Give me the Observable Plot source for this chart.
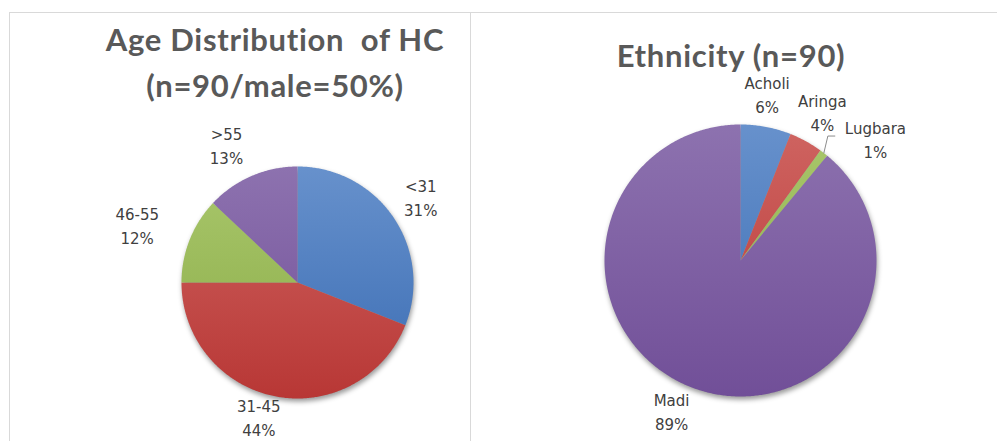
<!DOCTYPE html>
<html><head><meta charset="utf-8">
<script src="https://cdn.jsdelivr.net/npm/d3@7"></script>
<script src="https://cdn.jsdelivr.net/npm/@observablehq/plot@0.6"></script>
<style>
html,body{margin:0;padding:0;background:#fff;}
#wrap{position:relative;width:997px;height:441px;overflow:hidden;font-family:Lato,"Liberation Sans",sans-serif;background:#fff;}
.panel{position:absolute;box-sizing:border-box;}
.title{position:absolute;color:#595959;font-size:31px;font-weight:bold;letter-spacing:0.7px;text-align:center;white-space:pre;line-height:46px;font-family:Lato,sans-serif;}
.chart{position:absolute;left:0;top:0;}
.chart svg{overflow:visible;}
</style></head><body>
<div id="wrap">
  <div class="panel" style="left:9px;top:12px;width:462px;height:460px;border:1px solid #d9d9d9;"></div>
  <div class="panel" style="left:470px;top:12px;width:560px;height:460px;border-top:1px solid #d9d9d9;"></div>
  <div class="title" id="t1" style="left:75px;top:16px;width:400px;"></div>
  <div class="title" id="t2" style="left:531px;top:32px;width:400px;"></div>
  <div class="chart" id="c1"></div>
  <div class="chart" id="c2"></div>
</div>
<script>
// ---- data ----
const ageTitle = ["Age Distribution  of HC", "(n=90/male=50%)"];
const ageCategories = ["<31", "31-45", "46-55", ">55"];
const ageValues = [31, 44, 12, 13];
const ethTitle = ["Ethnicity (n=90)"];
const ethCategories = ["Acholi", "Aringa", "Lugbara", "Madi"];
const ethValues = [6, 4, 1, 89];
const sliceColors = ["#4f81bd", "#c0504d", "#9bbb59", "#8064a2"];
const gradTop = ["#6791cc", "#cf6461", "#a9c76c", "#8d72af"];
const gradBottom = ["#3a6cb3", "#b83735", "#8aab46", "#714f98"];

document.getElementById("t1").textContent = ageTitle.join("\n");
document.getElementById("t2").textContent = ethTitle.join("\n");

const labelFont = "15px 'DejaVu Sans'";
const ctx = document.createElement("canvas").getContext("2d");
ctx.font = labelFont;
const textW = t => ctx.measureText(t).width;

function pieChart({cats, vals, prefix, cx, cy, r, small, maxLabelY}) {
  const W = 997, H = 441;
  const arcs = d3.pie().sort(null).value(d => d)(vals);
  const pts = [];
  arcs.forEach((a, i) => {
    const fill = `url(#${prefix}${i})`;
    pts.push({cat: cats[i], x: 0, y: 0, fill});
    const n = Math.max(4, Math.ceil((a.endAngle - a.startAngle) / 0.01));
    for (let k = 0; k <= n; k++) {
      const t = a.startAngle + (a.endAngle - a.startAngle) * k / n;
      pts.push({cat: cats[i], x: Math.sin(t), y: Math.cos(t), fill});
    }
  });
  const labels = [];
  const leaders = [];
  const px = v => v / r; // pixel offset -> unit offset
  arcs.forEach((a, i) => {
    const m = (a.startAngle + a.endAngle) / 2;
    const s = Math.sin(m), c = Math.cos(m);
    const pct = `${vals[i]}%`;
    const text = `${cats[i]}\n${pct}`;
    const hw = Math.max(textW(cats[i]), textW(pct)) / 2;
    if (vals[i] < small) {
      const x1 = s + px(4), y1 = c + px(17);
      leaders.push({cat: cats[i], x: s, y: c});
      leaders.push({cat: cats[i], x: x1, y: y1});
      leaders.push({cat: cats[i], x: x1 + px(7), y: y1});
      labels.push({x: x1 + px(7 + 10 + hw), y: y1 - px(2), text});
    } else {
      // label centre, in pixels below the pie centre, kept inside the chart area
      const down = Math.min(-(c * (r + 29)) - 5, maxLabelY - cy);
      labels.push({x: px(s * (r + 26 + hw) - 8), y: px(-down), text});
    }
  });
  const defs = () => {
    const g = d3.create("svg:defs");
    sliceColors.forEach((col, i) => {
      const lg = g.append("linearGradient").attr("id", prefix + i)
        .attr("gradientUnits", "userSpaceOnUse")
        .attr("x1", 0).attr("x2", 0).attr("y1", cy - r).attr("y2", cy + r);
      lg.append("stop").attr("offset", "0%").attr("stop-color", gradTop[i]);
      lg.append("stop").attr("offset", "100%").attr("stop-color", gradBottom[i]);
    });
    return g.node();
  };
  const svg = Plot.plot({
    width: W, height: H, margin: 0,
    style: {background: "transparent", overflow: "visible"},
    x: {domain: [-1, 1], range: [cx - r, cx + r], axis: null},
    y: {domain: [-1, 1], range: [cy + r, cy - r], axis: null},
    marks: [
      defs,
      Plot.line(pts, {x: "x", y: "y", z: "cat", fill: "fill", stroke: "none", curve: "linear-closed"}),
      Plot.line(leaders, {x: "x", y: "y", z: "cat", stroke: "#8c8c8c", strokeWidth: 1}),
      Plot.text(labels, {x: "x", y: "y", text: "text", fill: "#404040", fontSize: 15, lineHeight: 1.6, lineAnchor: "middle", textAnchor: "middle", fontFamily: "'DejaVu Sans', sans-serif"})
    ]
  });
  d3.select(svg).selectAll("g[aria-label=line]").filter((d, i) => i === 0)
    .style("filter", "drop-shadow(1px 3px 2.5px rgba(0,0,0,0.4))");
  return svg;
}

document.getElementById("c1").append(pieChart({cats: ageCategories, vals: ageValues, prefix: "ga", cx: 297, cy: 282, r: 116, small: 2, maxLabelY: 416}));
document.getElementById("c2").append(pieChart({cats: ethCategories, vals: ethValues, prefix: "ge", cx: 740, cy: 260, r: 136, small: 2, maxLabelY: 416}));
</script>
</body></html>
